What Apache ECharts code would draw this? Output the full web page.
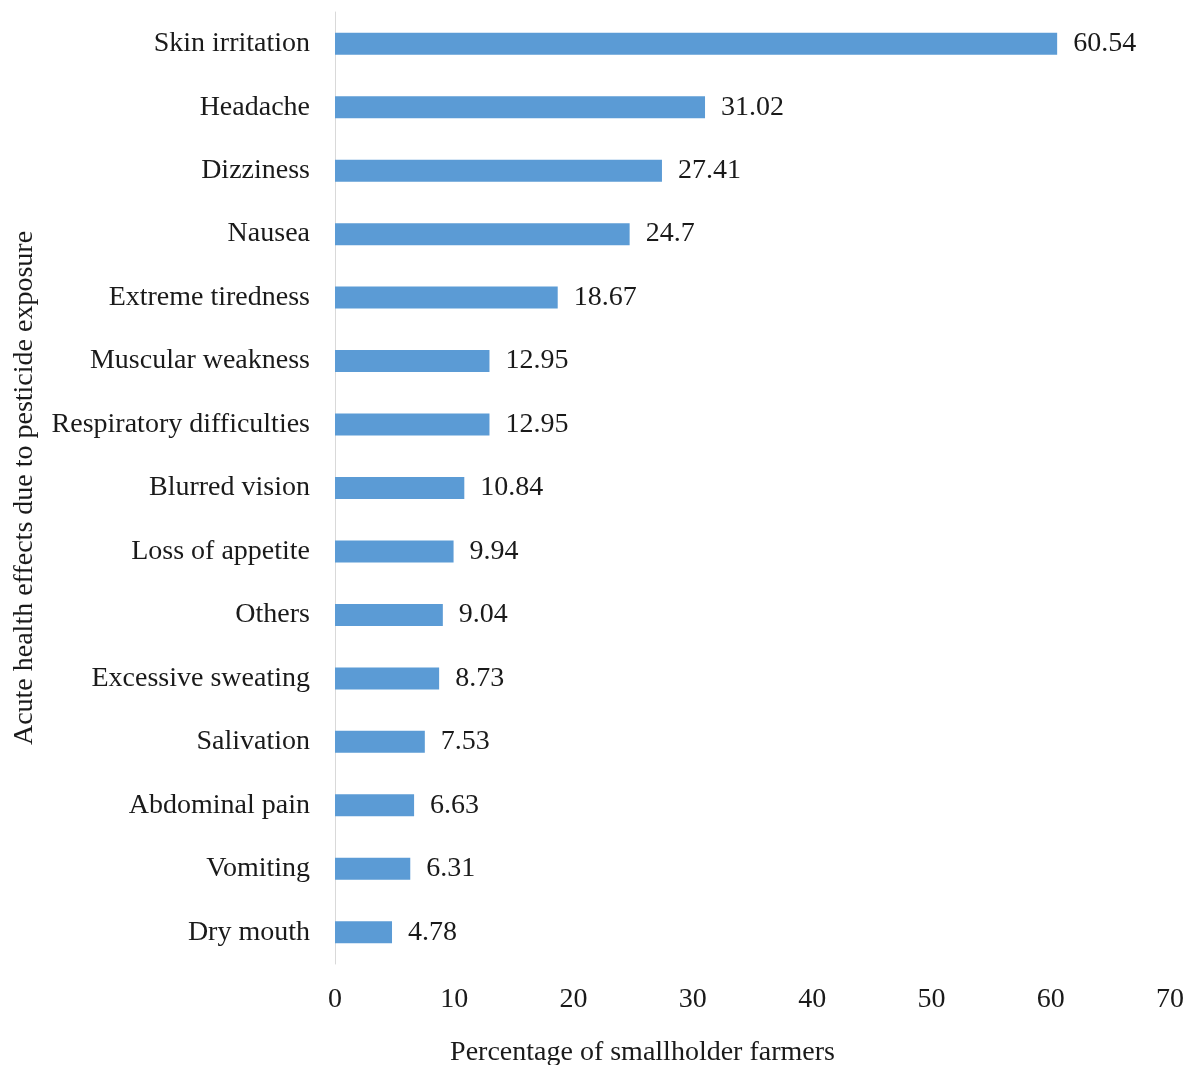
<!DOCTYPE html>
<html><head><meta charset="utf-8">
<script src="https://cdn.jsdelivr.net/npm/echarts@6/dist/echarts.min.js"></script>
<style>html,body{margin:0;padding:0;background:#fff}#c{width:1193px;height:1065px}</style>
</head><body><div id="c"></div>
<script>
const categories = ["Skin irritation","Headache","Dizziness","Nausea","Extreme tiredness","Muscular weakness","Respiratory difficulties","Blurred vision","Loss of appetite","Others","Excessive sweating","Salivation","Abdominal pain","Vomiting","Dry mouth"];
const values = [60.54,31.02,27.41,24.7,18.67,12.95,12.95,10.84,9.94,9.04,8.73,7.53,6.63,6.31,4.78];
const xTicks = {min:0, max:70, interval:10};
const F = '"Liberation Serif","DejaVu Serif",serif';
const FS = 28;
const chart = echarts.init(document.getElementById('c'));
chart.setOption({
  animation:false,
  grid:{left:335,right:23,top:12,bottom:101,containLabel:false,outerBoundsMode:'none'},
  xAxis:{type:'value',min:xTicks.min,max:xTicks.max,interval:xTicks.interval,
    splitLine:{show:false},axisLine:{show:false},axisTick:{show:false},
    axisLabel:{color:'#1a1a1a',fontFamily:F,fontSize:FS,margin:22},
    name:'Percentage of smallholder farmers',nameLocation:'middle',nameGap:75,
    nameTextStyle:{color:'#1a1a1a',fontFamily:F,fontSize:FS,padding:[0,220,0,0]}},
  yAxis:{type:'category',data:categories,inverse:true,
    axisLine:{show:true,lineStyle:{color:'#d9d9d9',width:1}},axisTick:{show:false},
    axisLabel:{color:'#1a1a1a',fontFamily:F,fontSize:FS,margin:25},
    name:'Acute health effects due to pesticide exposure',nameLocation:'middle',nameGap:296,
    nameTextStyle:{color:'#1a1a1a',fontFamily:F,fontSize:FS}},
  series:[{type:'bar',data:values,barWidth:22,itemStyle:{color:'#5b9bd5'},
    label:{show:true,position:'right',distance:16,color:'#1a1a1a',fontFamily:F,fontSize:FS}}]
});
</script></body></html>
